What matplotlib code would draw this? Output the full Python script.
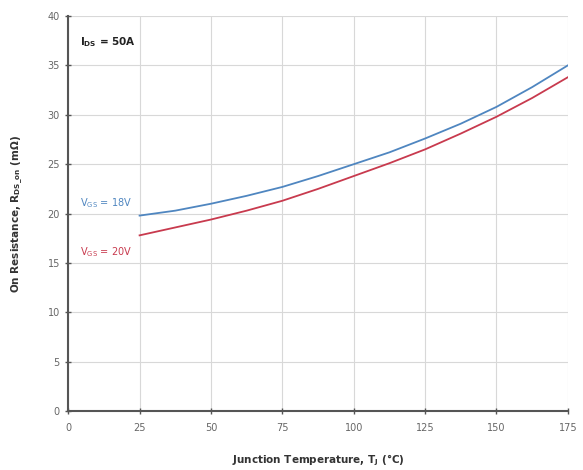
import matplotlib
matplotlib.use("Agg")
import matplotlib.pyplot as plt

temp = [25, 37.5, 50, 62.5, 75, 87.5, 100, 112.5, 125, 137.5, 150, 162.5, 175]
r_18v = [19.8, 20.3, 21.0, 21.8, 22.7, 23.8, 25.0, 26.2, 27.6, 29.1, 30.8, 32.8, 35.0]
r_20v = [17.8, 18.6, 19.4, 20.3, 21.3, 22.5, 23.8, 25.1, 26.5, 28.1, 29.8, 31.7, 33.8]
xticks = [0, 25, 50, 75, 100, 125, 150, 175]
yticks = [0, 5, 10, 15, 20, 25, 30, 35, 40]

fig = plt.figure(figsize=(5.83, 4.70), dpi=100)
ax = fig.add_axes([0.117, 0.125, 0.857, 0.841])

ax.plot(temp, r_18v, color="#4f86c0", lw=1.3)
ax.plot(temp, r_20v, color="#c83a4e", lw=1.3)

ax.set_xlim(0, 175)
ax.set_ylim(0, 40)
ax.set_xticks(xticks)
ax.set_yticks(yticks)
ax.grid(True, color="#d8d8d8", lw=0.8)
ax.set_axisbelow(True)
for s in ["top", "right"]:
    ax.spines[s].set_visible(False)
for s in ["left", "bottom"]:
    ax.spines[s].set_color("#555555")
    ax.spines[s].set_linewidth(1.5)
ax.tick_params(direction="inout", length=5, width=1, color="#555555",
               labelsize=7, labelcolor="#666666")
ax.tick_params(axis="x", pad=6)

ax.set_xlabel("Junction Temperature, T$_\\mathregular{J}$ (\u00b0C)", fontsize=7.5,
              fontweight="bold", color="#333333", labelpad=14)
ax.set_ylabel("On Resistance, R$_\\mathregular{DS\\_on}$ (m\u03a9)", fontsize=7.5,
              fontweight="bold", color="#333333", labelpad=16)

ax.text(4, 37.0, "I$_\\mathregular{DS}$ = 50A", fontsize=7.5, fontweight="bold", color="#222222")
ax.text(4, 20.7, "V$_\\mathregular{GS}$ = 18V", fontsize=7, color="#4f86c0")
ax.text(4, 15.8, "V$_\\mathregular{GS}$ = 20V", fontsize=7, color="#c83a4e")

fig.savefig("out.png", dpi=100)
